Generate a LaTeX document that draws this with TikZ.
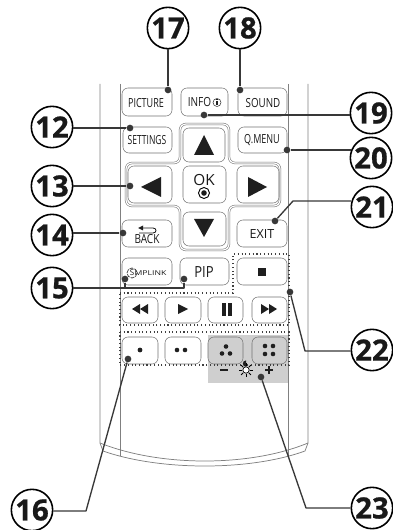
\documentclass[tikz,border=0pt]{standalone}
\usepackage{fontspec}
\usepackage{graphicx}
\setmainfont{Open Sans}
\newfontfamily\calloutfont[BoldFeatures={FakeBold=0.7}]{Open Sans}
\newcommand{\nar}[2]{\scalebox{#1}[1]{#2}}
\tikzset{
  body/.style={line width=0.55pt, draw=black!50},
  btn/.style={line width=0.4pt, draw=black!55, rounded corners=4.5pt},
  padring/.style={draw=black!55, double=white, line width=0.4pt, double distance=0.9pt, rounded corners=4.5pt},
  dotline/.style={line width=0.8pt, draw=black!75, dash pattern=on 0.8pt off 2pt},
  btnlabel/.style={font=\fontsize{9.4}{10}\selectfont, inner sep=0pt, text=black!90},
  callout/.style={circle, draw=black, fill=white, line width=1.2pt, minimum size=31pt, inner sep=0pt, font=\calloutfont\fontsize{22}{22}\selectfont\bfseries, text=black!90},
  leaderdot/.style={circle, fill=black!78, minimum size=5pt, inner sep=0pt},
  leader/.style={line width=1pt, draw=black!78, line join=round},
  glyph/.style={fill=black!88},
}
\begin{document}
\begin{tikzpicture}[x=0.75pt,y=-0.75pt]
\useasboundingbox (0,0) rectangle (392,530);
\fill[white] (0,0) rectangle (392,530);
\fill[black!19] (208,335) rectangle (288,383);
\draw[body] (100,84) -- (100,443) -- (103,451) .. controls (160,471) and (250,471) .. (305,451) -- (308,443) -- (308,84);
\draw[body] (100,443) .. controls (160,467) and (250,467) .. (308,443);
\draw[body] (120,84) -- (120,456);
\draw[body] (288,84) -- (288,456);
\draw[padring] (180,124) -- (229,124) -- (229,163) -- (280,163) -- (280,206) -- (229,206) -- (229,250) -- (180,250) -- (180,206) -- (126,206) -- (126,163) -- (180,163) -- cycle;
\draw[btn] (122,88) rectangle (172,116);
\draw[btn] (181,88) rectangle (228,116);
\draw[btn] (238,88) rectangle (287,116);
\draw[btn] (123,127) rectangle (172,153);
\draw[btn] (238,127) rectangle (287,153);
\draw[btn] (183,128) rectangle (225,162);
\draw[btn] (128,166) rectangle (172,203);
\draw[btn] (183,166) rectangle (226,203);
\draw[btn] (237,166) rectangle (279,203);
\draw[btn] (183,212) rectangle (226,246);
\draw[btn] (122,220) rectangle (172,247);
\draw[btn] (237,220) rectangle (287,247);
\draw[btn] (122,258) rectangle (172,285);
\draw[btn] (180,258) rectangle (229,285);
\draw[btn] (237,258) rectangle (287,285);
\draw[btn] (122,297) rectangle (158,323);
\draw[btn] (165,297) rectangle (201,323);
\draw[btn] (208,297) rectangle (243,323);
\draw[btn] (252,297) rectangle (287,323);
\draw[btn] (122,337) rectangle (158,364);
\draw[btn] (165,337) rectangle (201,364);
\draw[btn] (208,337) rectangle (243,364);
\draw[btn] (252,337) rectangle (287,364);
\draw[dotline] (120,293) -- (233,293) -- (233,254) -- (289,254) -- (289,325) -- (120,325) -- cycle;
\draw[dotline] (120,332) -- (289,332) -- (289,365) -- (120,365) -- cycle;
\node[btnlabel] (picture) at (146,103) {\nar{0.72}{PICTURE}};
\node[btnlabel] (info) at (199.5,102) {\nar{0.8}{INFO}};
\node[btnlabel] (sound) at (263,103) {\nar{0.78}{SOUND}};
\node[btnlabel] (settings) at (147,140) {\nar{0.68}{SETTINGS}};
\node[btnlabel] (qmenu) at (262,140) {\nar{0.72}{Q.MENU}};
\node[btnlabel] (ok) at (204,180) {\fontsize{11.5}{12}\selectfont OK};
\node[btnlabel] (back) at (147,239) {\nar{0.8}{BACK}};
\node[btnlabel] (exit) at (262,234) {EXIT};
\node[btnlabel] (pip) at (204,272) {\fontsize{11.5}{12}\selectfont\nar{0.85}{PIP}};
\node[btnlabel] (simplink) at (150.5,273) {\fontsize{5}{5}\selectfont\nar{1.3}{MPLINK}};
\node[btnlabel, font=\fontsize{6}{6}\selectfont] (simpls) at (132,273) {S};
\draw[line width=0.5pt, draw=black!80, dash pattern=on 3pt off 0.8pt] (132,273) circle (5);
\draw[line width=0.4pt, draw=black!80] (217,102.5) circle (4);
\fill[glyph] (216.3,101) rectangle (217.7,105.5);
\fill[glyph] (216.3,99.3) rectangle (217.7,100.3);
\draw[line width=0.7pt] (204,193) circle (5.5);
\fill[black!90] (204,193) circle (2.8);
\fill[glyph] (204,135) -- (214,155) -- (194,155) -- cycle;
\fill[glyph] (141,187) -- (161,177) -- (161,197) -- cycle;
\fill[glyph] (267,187) -- (248,177) -- (248,197) -- cycle;
\fill[glyph] (204,237) -- (194,219) -- (214,219) -- cycle;
\draw[line width=0.6pt, draw=black!90] (139,233) -- (153,233) .. controls (157,233) and (157,228) .. (153,228) -- (141,228);
\fill[glyph] (138,228) -- (143,225.5) -- (143,230.5) -- cycle;
\fill[glyph] (132,309) -- (140,304) -- (140,314) -- cycle;
\fill[glyph] (140,309) -- (148,304) -- (148,314) -- cycle;
\fill[glyph] (188,309) -- (178,304) -- (178,314) -- cycle;
\fill[glyph] (222,303) rectangle (226,316);
\fill[glyph] (227.5,303) rectangle (231.5,316);
\fill[glyph] (269,309) -- (261,304) -- (261,314) -- cycle;
\fill[glyph] (277,309) -- (269,304) -- (269,314) -- cycle;
\fill[glyph] (258,268) rectangle (266,276);
\fill[glyph] (140,350) circle (2.4);
\fill[glyph] (177,350) circle (2.3);
\fill[glyph] (185,350) circle (2.3);
\fill[glyph] (226,346.5) circle (2.3);
\fill[glyph] (222,353.5) circle (2.3);
\fill[glyph] (230,353.5) circle (2.3);
\fill[glyph] (265,346) circle (2.3);
\fill[glyph] (273,346) circle (2.3);
\fill[glyph] (265,354) circle (2.3);
\fill[glyph] (273,354) circle (2.3);
\fill[glyph] (220,369) rectangle (228,371);
\fill[glyph] (265,369) rectangle (273,371);
\fill[glyph] (268,366) rectangle (270,374);
\draw[line width=0.5pt, fill=white] (246,370) circle (3.2);
\fill[glyph] (246,366.8) arc (90:270:3.2) -- cycle;
\foreach \a in {0,45,...,315} {
  \draw[line width=0.55pt] (246,370) ++(\a:4) -- ++(\a:3);
}
\node[callout] (n12) at (52,127) {12};
\node[callout] (n13) at (52,186) {13};
\node[callout] (n14) at (52,235) {14};
\node[callout] (n15) at (52,288) {15};
\node[callout] (n16) at (32,510) {16};
\node[callout] (n17) at (168,28) {17};
\node[callout] (n18) at (240,28) {18};
\node[callout] (n19) at (371,113) {19};
\node[callout] (n20) at (371,158) {20};
\node[callout] (n21) at (372,207) {21};
\node[callout] (n22) at (372,350) {22};
\node[callout] (n23) at (372,508) {23};
\node[leaderdot] (d12) at (130,128) {};
\node[leaderdot] (d13) at (130,186) {};
\node[leaderdot] (d14) at (123,233) {};
\node[leaderdot] (d15a) at (125,279) {};
\node[leaderdot] (d15b) at (184,279) {};
\node[leaderdot] (d16) at (128,359) {};
\node[leaderdot] (d17) at (168,90) {};
\node[leaderdot] (d18) at (240,90) {};
\node[leaderdot] (d19) at (204,115) {};
\node[leaderdot] (d20) at (287,150) {};
\node[leaderdot] (d21) at (275,221) {};
\node[leaderdot] (d22) at (290,292) {};
\node[leaderdot] (d23) at (261,377) {};
\draw[leader] (n12.east |- d12) -- (d12);
\draw[leader] (n13) -- (d13);
\draw[leader] (n14.east |- d14) -- (d14);
\draw[leader] (n15) -- (d15b |- n15) -- (d15b);
\draw[leader] (d15a) -- (d15a |- n15);
\draw[leader] (n16.east |- 0,511) -- (86,511) -- (d16);
\draw[leader] (n17) -- (d17);
\draw[leader] (n18) -- (d18);
\draw[leader] (d19) -- (d19 -| n19.west);
\draw[leader] (d20) -- (d20 -| n20.157);
\draw[leader] (d21) -- (293,201) -- (293,201 -| n21.170);
\draw[leader] (d22) -- (305,351) -- (n22.west |- 0,351);
\draw[leader] (d23) -- (306,508) -- (n23);
\end{tikzpicture}
\end{document}
